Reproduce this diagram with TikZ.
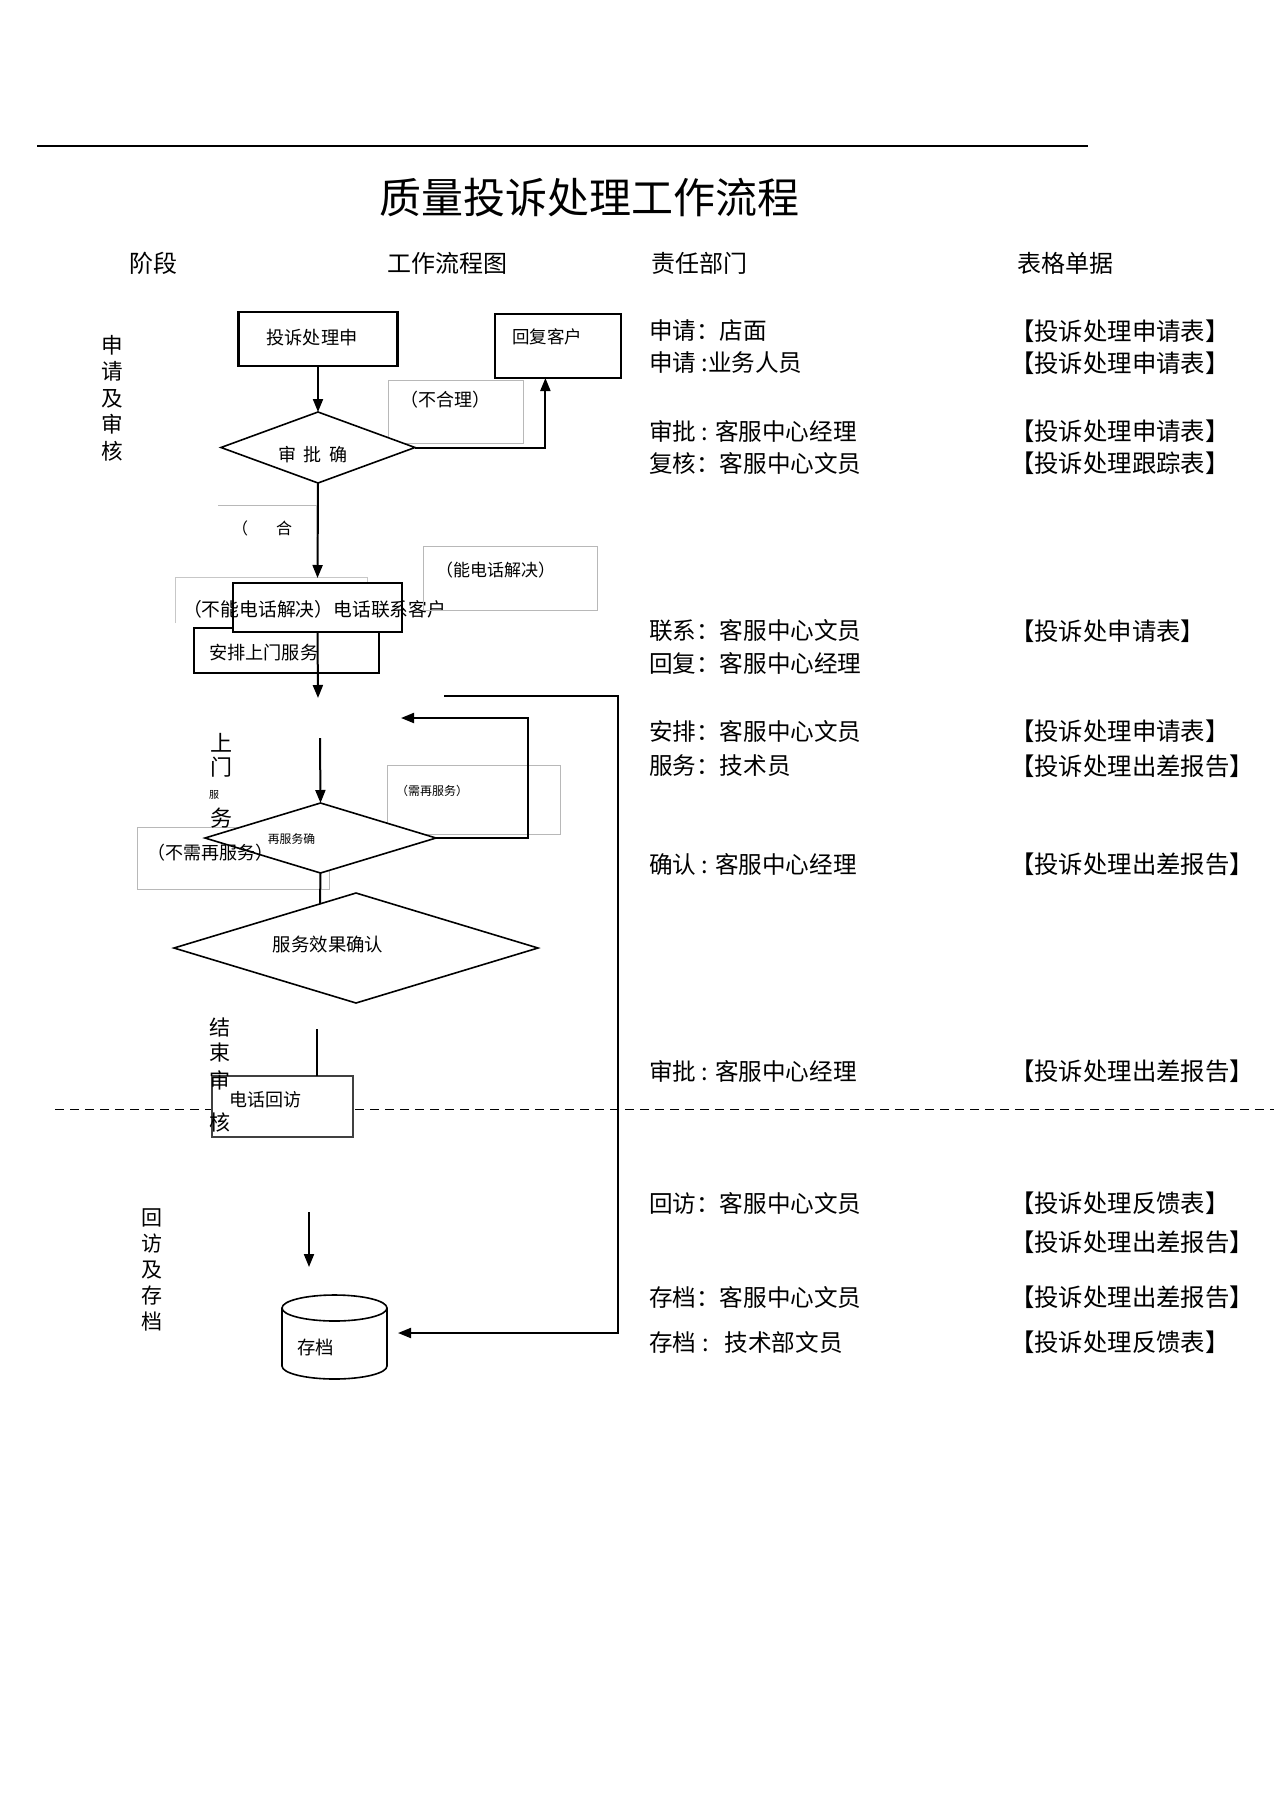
\documentclass[tikz,border=0pt]{standalone}
\usepackage{fontspec}
\setmainfont{Noto Sans CJK SC}
\usetikzlibrary{shapes.geometric,arrows.meta,calc}
\begin{document}
\begin{tikzpicture}[x=0.5pt,y=-0.5pt,
  every node/.style={inner sep=0pt, outer sep=0pt},
  fs/.style={font=\fontsize{#1}{#1}\selectfont},
  box/.style={draw, line width=1.1pt, fill=white},
  lbl/.style={draw=black!28, line width=0.5pt},
  dia/.style={diamond, draw, line width=0.8pt, fill=white},
  arr/.style={line width=1pt, -{Triangle[width=5pt,length=6.5pt]}},
  flow/.style={line width=1pt},
  lefttxt/.style={anchor=west, fs=11.8pt},
  formtxt/.style={anchor=west, fs=12.2pt}]

\fill[white] (0,0) rectangle (1274,1804);
\useasboundingbox (0,0) rectangle (1274,1804);

% top rule and title
\draw[line width=0.8pt] (37,146) -- (1088,146);
\node[fs=21pt] (title) at (589,198) {质量投诉处理工作流程};

% headers
\node[fs=12pt] (h1) at (153,263) {阶段};
\node[fs=12pt] (h2) at (447,263) {工作流程图};
\node[fs=12pt] (h3) at (699,263) {责任部门};
\node[fs=12pt] (h4) at (1065,263) {表格单据};

% stage labels
\node[align=center, font=\fontsize{10.8pt}{13.3pt}\selectfont] (st1) at (112,398) {申\\请\\及\\审\\核};
\node[align=center, font=\fontsize{10.5pt}{13pt}\selectfont] (st3) at (152,1270) {回\\访\\及\\存\\档};

% dashed separator
\draw[line width=0.5pt, dash pattern=on 4.5pt off 3pt] (55,1109) -- (1274,1109);

% ---------- flowchart ----------
% application box
\node[box, minimum width=79.5pt, minimum height=27pt] (apply) at (318,339) {};
\node[fs=9.1pt] (applyt) at (312,338) {投诉处理申};

% reply box
\node[box, minimum width=63pt, minimum height=32pt] (reply) at (558,346) {};
\node[fs=8.75pt, anchor=west] (replyt) at (512,337) {回复客户};

% label (unreasonable)
\node[lbl, minimum width=67.5pt, minimum height=31.5pt] (lblno) at (455.5,411.5) {};
\node[fs=9pt, anchor=west] (lblnot) at (400,400) {（不合理）};

% decision 1
\node[dia, minimum width=97pt, minimum height=35.5pt] (d1) at (318,447.5) {};
\node[fs=9pt] (d1t) at (313,455) {审\hspace{4pt}批\hspace{4pt}确};

\draw[arr] (apply.south) -- (d1.north);
\draw[arr] (d1.east) -| ($(reply.south west)!0.4!(reply.south east)$);

% phone box group
\coordinate (lnpa) at (175,623);
\coordinate (lnpb) at (175,577);
\coordinate (lnpc) at (367,577);
\coordinate (lnpd) at (367,583);
\draw[black!22, line width=0.5pt] (lnpa) -- (lnpb) -- (lnpc) -- (lnpd);
\node[box, minimum width=92.5pt, minimum height=22.5pt] (arrange) at (286.5,650.5) {};
\node[box, minimum width=84.5pt, minimum height=24.5pt] (call) at (317.5,607.5) {};
\draw[arr, shorten >=2.5pt] (d1.south) -- (call.north);

% label (reasonable) - white patch over flow line
\node[fill=white, minimum width=49pt, minimum height=16pt] (lblok) at (267,521) {};
\draw[black!28, line width=0.5pt] (lblok.north west) -- (lblok.north east) -- (lblok.south east);
\node[fs=8pt, anchor=west] (lblokt) at (232,528) {（\hspace{14pt}合};

\node[fs=9.4pt, anchor=west] (callt) at (183,609) {（不能电话解决）电话联系客户};
\node[fs=9.1pt, anchor=west] (arranget) at (209,653) {安排上门服务};

\node[lbl, minimum width=87pt, minimum height=32pt] (lblphone) at (510,578) {};
\node[fs=8.5pt, anchor=west] (lblphonet) at (436,570) {（能电话解决）};

\coordinate (gap1) at (318,698);
\draw[arr] (call.south) -- (gap1);

% return line from archive
\coordinate (rets) at (444,696);
\coordinate (retend) at (398,1333);
\draw[arr] (rets) -- (618,696) -- (618,1333) -- (retend);

% service decision
\node[lbl, minimum width=86.5pt, minimum height=34.5pt] (lblagain) at (473.5,799.5) {};
\node[fs=6pt, anchor=west] (lblagaint) at (396,791) {（需再服务）};
\node[lbl, minimum width=96pt, minimum height=31pt] (lblnoagain) at (233,858) {};

\coordinate (gap2) at (320,738);
\node[dia, minimum width=115.5pt, minimum height=35pt] (d2) at (320.5,838) {};
\node[fs=5.9pt] (d2t) at (291.5,839) {再服务确};
\draw[arr] (gap2) -- (d2.north);
\coordinate (loopend) at (401,718);
\draw[arr] (d2.east) -| (528,718) -- (loopend);

\node[fs=9pt, anchor=west] (lblnoagaint) at (147,853) {（不需再服务）};

% stage label on-site service
\node[fs=11pt] (sv1) at (221,743) {上};
\node[fs=11pt] (sv2) at (221,767) {门};
\node[fs=5pt] (sv3) at (214,795) {服};
\node[fs=11pt] (sv4) at (221,818) {务};

% effect confirmation
\node[dia, minimum width=182pt, minimum height=55pt] (d3) at (356,948) {};
\node[fs=9.2pt] (d3t) at (328,944) {服务效果确认};
\coordinate (d3hit) at (320,904);
\draw[flow] (d2.south) -- (d3hit);

% phone visit
\coordinate (endtop) at (317,1029);
\node[draw=black!75, line width=0.8pt, fill=white, minimum width=70.5pt, minimum height=30.5pt] (visit) at (282.5,1106.5) {};
\draw[flow] (endtop) -- (endtop |- visit.north);
\node[fs=9pt, anchor=west] (visitt) at (229,1100) {电话回访};

\node[fs=10.5pt] (se1) at (220,1027) {结};
\node[fs=10.5pt] (se2) at (220,1053) {束};
\node[fs=10.5pt] (se3) at (220,1080) {审};
\node[fs=10.5pt] (se4) at (220,1122) {核};

% archive cylinder
\coordinate (arcs) at (309,1212);
\coordinate (arce) at (309,1267);
\draw[arr] (arcs) -- (arce);
\draw[line width=0.8pt, fill=white] (282,1308) -- (282,1366)
   arc[start angle=180, end angle=360, x radius=26.25pt, y radius=6.5pt]
   -- (387,1308);
\draw[line width=0.8pt, fill=white] (334.5,1308) ellipse [x radius=26.25pt, y radius=6.5pt];
\node[fs=9.2pt, anchor=west] (cylt) at (297,1347) {存档};

% ---------- right columns ----------
\node[lefttxt] (r1) at (649,331) {申请：店面};
\node[lefttxt] (r2) at (649,363) {申请 :业务人员};
\node[lefttxt] (r3) at (649,431) {审批 : 客服中心经理};
\node[lefttxt] (r4) at (649,463) {复核：客服中心文员};
\node[lefttxt] (r5) at (649,631) {联系：客服中心文员};
\node[lefttxt] (r6) at (649,663) {回复：客服中心经理};
\node[lefttxt] (r7) at (649,731) {安排：客服中心文员};
\node[lefttxt] (r8) at (649,766) {服务：技术员};
\node[lefttxt] (r9) at (649,864) {确认 : 客服中心经理};
\node[lefttxt] (r10) at (649,1071) {审批 : 客服中心经理};
\node[lefttxt] (r11) at (649,1203) {回访：客服中心文员};
\node[lefttxt] (r13) at (649,1297) {存档：客服中心文员};
\node[lefttxt] (r14) at (649,1342) {存档\hspace{3pt}:\hspace{8pt}技术部文员};

\node[formtxt] (f1) at (1010,331) {【投诉处理申请表】};
\node[formtxt] (f2) at (1010,363) {【投诉处理申请表】};
\node[formtxt] (f3) at (1010,431) {【投诉处理申请表】};
\node[formtxt] (f4) at (1010,463) {【投诉处理跟踪表】};
\node[formtxt] (f5) at (1010,631) {【投诉处申请表】};
\node[formtxt] (f7) at (1010,731) {【投诉处理申请表】};
\node[formtxt] (f8) at (1010,766) {【投诉处理出差报告】};
\node[formtxt] (f9) at (1010,864) {【投诉处理出差报告】};
\node[formtxt] (f10) at (1010,1071) {【投诉处理出差报告】};
\node[formtxt] (f11) at (1010,1203) {【投诉处理反馈表】};
\node[formtxt] (f12) at (1010,1242) {【投诉处理出差报告】};
\node[formtxt] (f13) at (1010,1297) {【投诉处理出差报告】};
\node[formtxt] (f14) at (1010,1342) {【投诉处理反馈表】};
\end{tikzpicture}
\end{document}
